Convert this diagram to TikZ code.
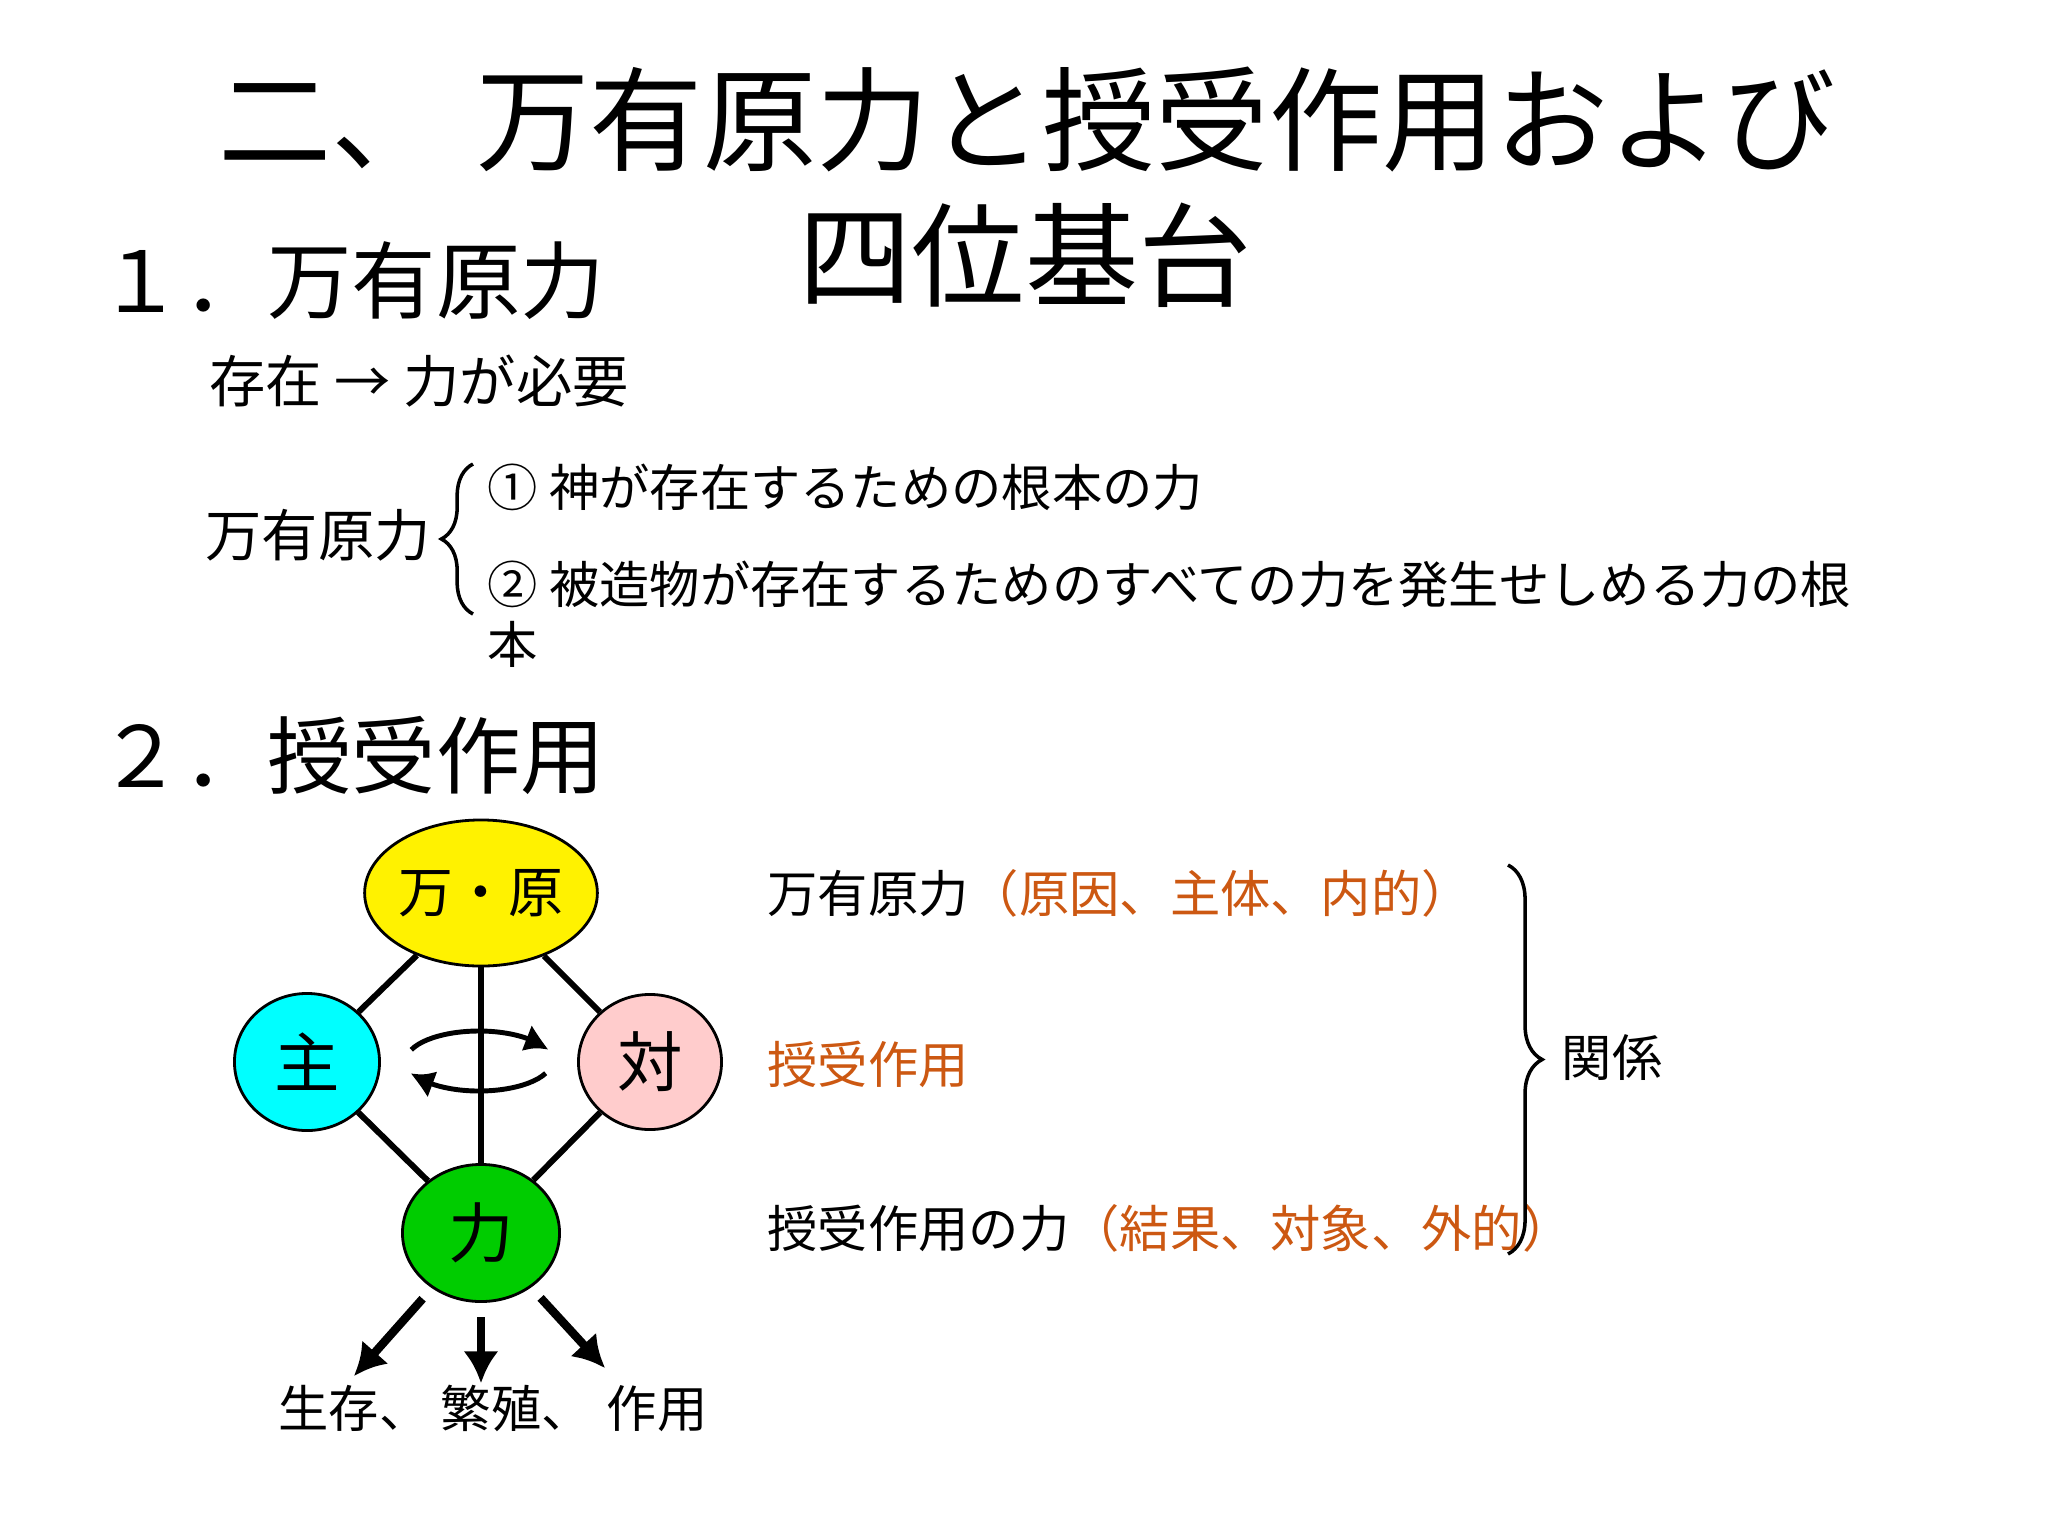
\documentclass[tikz,border=0pt]{standalone}
\usepackage{fontspec}
\usepackage{xcolor}
\usepackage{tikz}
\usetikzlibrary{shapes.geometric}
\usetikzlibrary{decorations.pathreplacing}
\usetikzlibrary{arrows.meta}
\usetikzlibrary{bending}
\usetikzlibrary{positioning}
\newfontfamily\jpfont{Noto Sans CJK JP}
\definecolor{orangebraun}{RGB}{204,88,18}
\definecolor{hellrosa}{RGB}{255,204,204}
\definecolor{gruen}{RGB}{0,204,0}
\definecolor{tuerkis}{RGB}{0,255,255}
\newcommand{\schrift}[1]{\jpfont\fontsize{#1}{1.2\dimexpr#1pt\relax}\selectfont}
\tikzset{
  Kreis/.style={ellipse,draw,thick,inner sep=0pt,font=\schrift{18.6}}, % Ellipsen
  Linie/.style={line width=1.7pt}, % Verbindungen
  Dreh/.style={line width=1.4pt,-{Latex[length=7pt,width=8pt,bend]}}, % Drehpfeile
  Folge/.style={line width=2.4pt,shorten <=4pt,-{Latex[length=9pt,width=10pt]}}, % Folgepfeile
  Zeile/.style={inner sep=0pt,anchor=west,font=\schrift{#1}}, % Textzeilen
  Klammer/.style={decorate,decoration={brace,amplitude=#1},line width=1pt} % geschweifte Klammer
}

\begin{document}
\begin{tikzpicture}[x=0.01cm,y=-0.01cm,
>=latex % Voreinstellung für Pfeilspitzen
]
\useasboundingbox (0,0) rectangle (2048,1536);

%Orientierungshilfe
%\foreach \k in {0,100,...,2000}{\draw[lightgray] (\k,0) -- (\k,1536);}

%Titel
\node[inner sep=0pt,font=\schrift{32.2}] (T1) at (1027,120) {二、\hspace{0.28em}万有原力と授受作用および};
\node[inner sep=0pt,font=\schrift{32.2}] (T2) at (1025,255) {四位基台};

%Abschnitt 1
\node[Zeile=24] (H1) at (98,281) {１．万有原力};
\node[Zeile=16] (Z1) at (209,381) {存在 → 力が必要};
\node[Zeile=16] (WU) at (205,535) {万有原力};
\node[Zeile=14.3] (P1) at (487,487) {① 神が存在するための根本の力};
\node[Zeile=14.3] (P2) at (487,584) {② 被造物が存在するためのすべての力を発生せしめる力の根};
\node[Zeile=14.3] (P3) at (487,644) {本};
\draw[Klammer=9pt] (473,614) -- (473,464);

%Abschnitt 2
\node[Zeile=24] (H2) at (98,755) {２．授受作用};

%Ellipsen
\node[Kreis,fill=yellow,minimum width=1.88cm,minimum height=1.46cm,font=\schrift{15.6}] (Ur) at (481,893) {万・原};
\node[Kreis,fill=tuerkis,minimum width=1.45cm,minimum height=1.37cm] (Sub) at (307,1062) {主};
\node[Kreis,fill=hellrosa,minimum width=1.43cm,minimum height=1.35cm] (Obj) at (650,1062) {対};
\node[Kreis,fill=gruen,minimum width=1.57cm,minimum height=1.37cm] (Kraft) at (481,1233) {力};

%Drehpfeile
\coordinate (Mitte) at (479,1061);
\draw[Dreh] ([shift={(202:73 and 30)}]Mitte) arc[start angle=202,end angle=340,x radius=73,y radius=30];
\draw[Dreh] ([shift={(24:73 and 30)}]Mitte) arc[start angle=24,end angle=158,x radius=73,y radius=30];

%Verbindungen
\draw[Linie] (Ur) -- (Sub);
\draw[Linie] (Ur) -- (Obj);
\draw[Linie] (Sub) -- (Kraft);
\draw[Linie] (Obj) -- (Kraft);
\draw[Linie] (Ur) -- (Kraft);

%Folgepfeile
\coordinate (F1) at (354,1376);
\coordinate (F2) at (481,1383);
\coordinate (F3) at (605,1368);
\draw[Folge] (Kraft) -- (F1);
\draw[Folge] (Kraft) -- (F2);
\draw[Folge] (Kraft) -- (F3);
\node[Zeile=14.3] (Wirk) at (278,1408) {生存、 繁殖、\hspace{0.3em}作用};

%rechte Seite
\node[Zeile=14.3] (R1) at (767,893) {万有原力{\color{orangebraun}（原因、主体、内的）}};
\node[Zeile=14.3,text=orangebraun] (R2) at (767,1064) {授受作用};
\node[Zeile=14.3] (R3) at (767,1228) {授受作用の力{\color{orangebraun}（結果、対象、外的）}};
\draw[Klammer=9.7pt] (1508,865) -- (1508,1254);
\node[Zeile=14.3] (Bez) at (1561,1058) {関係};

\end{tikzpicture}
\end{document}
